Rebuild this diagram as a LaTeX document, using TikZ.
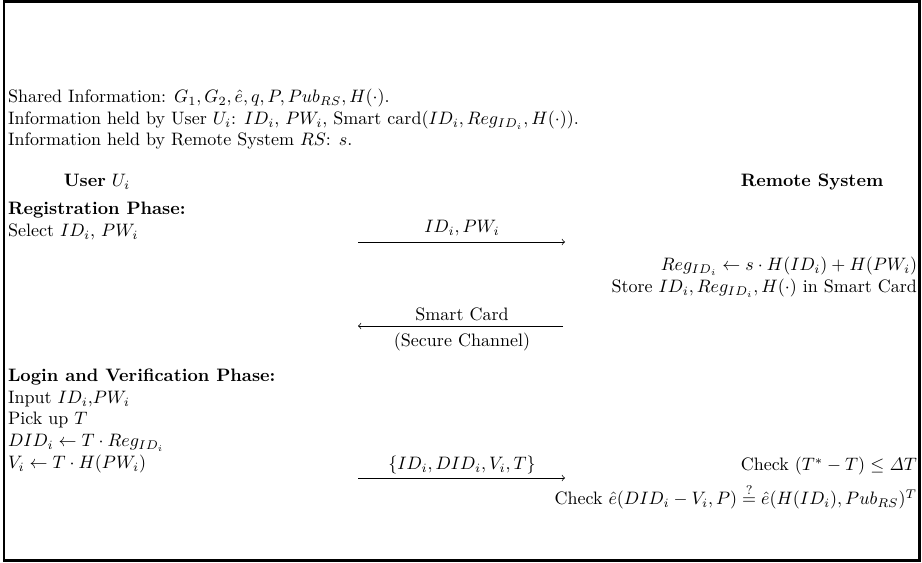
\documentclass[tikz,border=0pt]{standalone}
\usepackage{amsmath}
\begin{document}
\begin{tikzpicture}[x=0.5553pt,y=-0.5553pt,
  txt/.style={inner sep=0pt, outer sep=0pt, anchor=base west},
  rtxt/.style={inner sep=0pt, outer sep=0pt, anchor=base east},
  ctxt/.style={inner sep=0pt, outer sep=0pt, anchor=base},
  msg/.style={-to, line width=0.4pt},
  frame/.style={line width=1.6pt}]
\useasboundingbox (0,0) rectangle (922,563);
\draw[frame] (4,1.5) rectangle (919.5,560.5);
% header information
\node[txt] (shared) at (8,103) {Shared Information: $G_1, G_2, \hat{e}, q, P, Pub_{RS}, H(\cdot)$.};
\node[txt] (userinfo) at (8,125) {Information held by User $U_i$: $ID_i$, $PW_i$, Smart card($ID_i, Reg_{ID_i}, H(\cdot)$).};
\node[txt] (rsinfo) at (8,146) {Information held by Remote System $RS$: $s$.};
% column headers
\node[ctxt] (user) at (97,187) {\textbf{User} $U_i$};
\node[ctxt] (rs) at (812,187) {\textbf{Remote System}};
% registration
\node[txt] (regphase) at (8,215) {\textbf{Registration Phase:}};
\node[txt] (select) at (8,237) {Select $ID_i$, $PW_i$};
\coordinate (a1s) at (358,242);
\coordinate (a1e) at (565,242);
\draw[msg] (a1s) -- (a1e);
\node[ctxt] (m1) at (462,233) {$ID_i, PW_i$};
\node[rtxt] (regcomp) at (917,271) {$Reg_{ID_i} \leftarrow s\cdot H(ID_i)+H(PW_i)$};
\node[rtxt] (store) at (917,293) {Store $ID_i, Reg_{ID_i}, H(\cdot)$ in Smart Card};
\coordinate (a2s) at (563,326);
\coordinate (a2e) at (358,326);
\draw[msg] (a2s) -- (a2e);
\node[ctxt] (m2) at (462,321) {Smart Card};
\node[ctxt] (secure) at (462,347) {(Secure Channel)};
% login
\node[txt] (loginphase) at (8,382) {\textbf{Login and Verification Phase:}};
\node[txt] (input) at (8,404) {Input $ID_i$,$PW_i$};
\node[txt] (pick) at (8,425) {Pick up $T$};
\node[txt] (did) at (8,447) {$DID_i \leftarrow T\cdot Reg_{ID_i}$};
\node[txt] (vi) at (8,469) {$V_i \leftarrow T\cdot H(PW_i)$};
\coordinate (a3s) at (358,478);
\coordinate (a3e) at (565,478);
\draw[msg] (a3s) -- (a3e);
\node[ctxt] (m3) at (462,470) {$\{ID_i, DID_i, V_i, T\}$};
\node[rtxt] (checkt) at (917,471) {Check $(T^*-T)\le \mathit{\Delta} T$};
\node[rtxt] (checke) at (917,505) {Check $\hat{e}(DID_i - V_i, P) \stackrel{?}{=} \hat{e}(H(ID_i), Pub_{RS})^T$};
\end{tikzpicture}
\end{document}
